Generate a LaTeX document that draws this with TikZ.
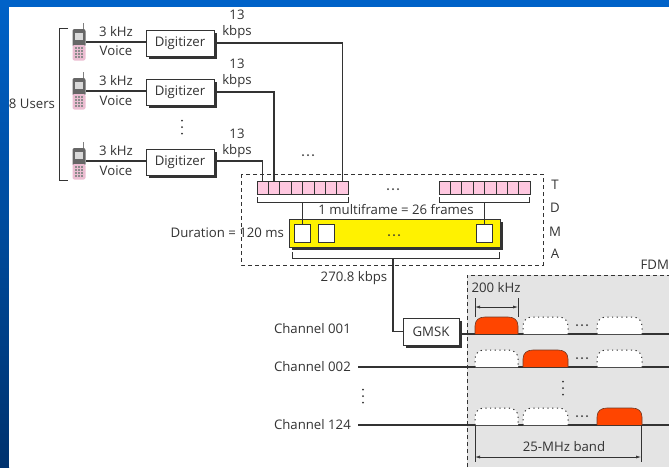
\documentclass[tikz,border=0pt]{standalone}
\usepackage{fontspec}
\setmainfont{Open Sans}
\usetikzlibrary{arrows.meta,calc}
\definecolor{ink}{HTML}{333333}
\definecolor{framepink}{HTML}{FFC8E0}
\definecolor{hump}{HTML}{FF4500}
\definecolor{band}{HTML}{E4E4E4}
\definecolor{slidetop}{HTML}{0062C8}
\definecolor{slidebottom}{HTML}{00326E}
\tikzset{
  x=1pt,y=-1pt,
  every node/.style={inner sep=0pt,outer sep=0pt,text=ink,font=\fontsize{13.2}{15}\selectfont},
  wire/.style={draw=ink,line width=1.4pt},
  thin wire/.style={draw=ink,line width=0.8pt},
  bracketline/.style={draw=ink,line width=0.8pt},
  shadowbox/.style={draw=ink,fill=white,line width=1pt,minimum width=68pt,minimum height=26pt},
  cell/.style={draw=ink,fill=framepink,line width=0.6pt,minimum width=11.375pt,minimum height=13pt},
  slot/.style={draw=ink,fill=white,line width=0.8pt,minimum width=16pt,minimum height=18pt},
  phonebox/.style={minimum width=14pt,minimum height=38pt},
  dashline/.style={draw=ink,line width=0.8pt,dash pattern=on 4pt off 3pt},
  humpon/.style={draw=ink!70!hump,fill=hump,line width=0.6pt},
  humpoff/.style={draw=ink,fill=white,line width=1pt,dash pattern=on 1.2pt off 3.5pt},
  measure/.style={draw=ink,line width=0.6pt,{Latex[length=5pt,width=3pt]}-{Latex[length=5pt,width=3pt]}}
}
\newcommand{\phoneat}[1]{%
  \begin{scope}[shift={(#1.center)}]
    \draw[gray,line width=1.2pt] (4.5,-12) -- (4.5,-19);
    \fill[black!60,rounded corners=2pt] (-6.5,-13) rectangle (6.5,5);
    \fill[framepink!85!gray,rounded corners=2pt] (-6.5,3) rectangle (6.5,18.5);
    \fill[black!15] (-4,-9.5) rectangle (4,-2);
    \foreach \a in {-3,0,3}\foreach \b in {6,9,12,15}\fill[black!45] (\a-.8,\b-.8) rectangle (\a+.8,\b+.8);
  \end{scope}}
\newcommand{\hdotsat}[2]{\foreach \d in {-5,0,5}\fill[ink] ($(#1,#2)+(\d,0)$) circle (1pt);}
\newcommand{\vdotsat}[2]{\foreach \d in {-6.5,0,6.5}\fill[ink] ($(#1,#2)+(0,\d)$) circle (1pt);}
\newcommand{\humpshape}[4][]{\path[#1] (#2,#4) -- (#2,#4-8) .. controls (#2,#4-14) and (#2+4,#4-17) .. (#2+10,#4-17) -- (#3-10,#4-17) .. controls (#3-4,#4-17) and (#3,#4-14) .. (#3,#4-8) -- (#3,#4);}
\begin{document}
\begin{tikzpicture}
\useasboundingbox (0,0) rectangle (669,467);
\clip (0,0) rectangle (669,467);
% slide background
\shade[top color=slidetop,bottom color=slidebottom] (0,0) rectangle (9,467);
\fill[slidetop] (0,0) rectangle (669,7);
\fill[white] (9,7) rectangle (669,467);

% FDM band
\fill[band] (467,275) rectangle (669,467);
\draw[dashline,line width=0.9pt] (467,467) -- (467,275) -- (669,275);
\node[anchor=east] (fdm) at (669,265) {FDM};

% users
\node[phonebox] (p1) at (79,42) {};
\node[phonebox] (p2) at (79,91) {};
\node[phonebox] (p3) at (79,161) {};
\phoneat{p1}\phoneat{p2}\phoneat{p3}
\fill[ink] (149,33) rectangle (217,59);
\fill[ink] (149,82) rectangle (217,108);
\fill[ink] (149,152) rectangle (217,178);
\node[shadowbox] (d1) at (180,43) {Digitizer};
\node[shadowbox] (d2) at (180,92) {Digitizer};
\node[shadowbox] (d3) at (180,162) {Digitizer};
\draw[wire] (p1.east) -- (p1.east -| d1.west);
\draw[wire] (p2.east) -- (p2.east -| d2.west);
\draw[wire] (p3.east) -- (p3.east -| d3.west);
\draw[bracketline,line width=0.9pt] (68,28) -- (59,28) -- (59,180) -- (68,180);
\node[anchor=west] (users) at (9,104) {8 Users};
\foreach \n/\y in {a/32,b/81,c/151}{\node (khz\n) at (116,\y) {3 kHz};}
\foreach \n/\y in {a/51,b/101,c/171}{\node (voice\n) at (116,\y) {Voice};}
\foreach \n/\y in {a/15,b/64,c/134}{\node (rate\n) at (237,\y) {13};}
\foreach \n/\y in {a/32,b/81,c/151}{\node (kbps\n) at (237,\y) {kbps};}
\vdotsat{182}{127}
\hdotsat{308}{155}

% TDMA block
\draw[dashline] (241,174) rectangle (543,265);
\foreach \i in {1,...,8}{
  \node[cell] (c\i) at (257+11.375*\i-5.69,187.5) {};
  \node[cell] (e\i) at (439+11.375*\i-5.69,187.5) {};
}
\draw[wire] (d1.east) -| (c8.north);
\draw[wire] (d2.east) -| (c2.north);
\draw[wire] ([yshift=1pt]d3.east) -| (c1.north);
\hdotsat{393}{189}
\draw[bracketline] (257,197) -- (257,202) -- (348,202) -- (348,197);
\draw[bracketline] (439,197) -- (439,202) -- (529,202) -- (529,197);
\node (mf) at (396,210) {1 multiframe = 26 frames};
\fill[ink] (292,222) rectangle (503,250);
\node[draw=ink,line width=0.8pt,fill=yellow,minimum width=211pt,minimum height=28pt] (mux) at (394.5,233) {};
\node[slot] (s1) at (302,233) {};
\node[slot] (s2) at (326.5,233) {};
\node[slot] (s3) at (484,233) {};
\coordinate (b1) at (302,202);
\coordinate (b2) at (484,202);
\draw[thin wire] (b1) -- (s1.north);
\draw[thin wire] (b2) -- (s3.north);
\hdotsat{394}{235}
\node[anchor=east] (dur) at (284,233) {Duration = 120 ms};
\draw[bracketline] (292,252) -- (292,258.5) -- (499,258.5) -- (499,252);
\foreach \n/\y/\t in {t/185/T,d/208/D,m/232/M,a/254/A}{\node (l\n) at (555,\y) {\t};}
\node (rate) at (354,278) {270.8 kbps};

% GMSK and channels
\fill[ink] (406,321) rectangle (462,348);
\node[draw=ink,fill=white,line width=1pt,minimum width=56pt,minimum height=27pt] (gmsk) at (431,331.5) {GMSK};
\coordinate (muxout) at (393,258.5);
\draw[wire] (muxout) |- (gmsk.west);
\coordinate (end1) at (669,334);
\coordinate (start2) at (358,367);
\coordinate (end2) at (669,367);
\coordinate (start3) at (358,425);
\coordinate (end3) at (669,425);
\draw[wire] (gmsk.east |- end1) -- (end1);
\draw[wire] (start2) -- (end2);
\draw[wire] (start3) -- (end3);
\node[anchor=west] (ch1) at (274,329) {Channel 001};
\node[anchor=west] (ch2) at (274,367) {Channel 002};
\node[anchor=west] (ch3) at (274,425) {Channel 124};
\vdotsat{363}{396}

% spectrum humps
\humpshape[humpon]{475}{518}{334}
\humpshape[humpoff]{523}{568}{334}
\humpshape[humpoff]{597}{642}{334}
\humpshape[humpoff]{475}{518}{367}
\humpshape[humpon]{523}{568}{367}
\humpshape[humpoff]{597}{642}{367}
\humpshape[humpoff]{475}{518}{425}
\humpshape[humpoff]{523}{568}{425}
\humpshape[humpon]{597}{642}{425}
\hdotsat{582}{325}
\hdotsat{582}{358}
\hdotsat{582}{416}
\vdotsat{563}{388}

% measures
\node (khz) at (496,288) {200 kHz};
\draw[thin wire] (475,298) -- (475,317);
\draw[thin wire] (518,298) -- (518,317);
\draw[measure] (475,307) -- (518,307);
\node (mhz) at (564,447) {25-MHz band};
\draw[thin wire] (475,425) -- (475,462);
\draw[thin wire] (641,425) -- (641,462);
\draw[measure] (475,457) -- (641,457);
\end{tikzpicture}
\end{document}
